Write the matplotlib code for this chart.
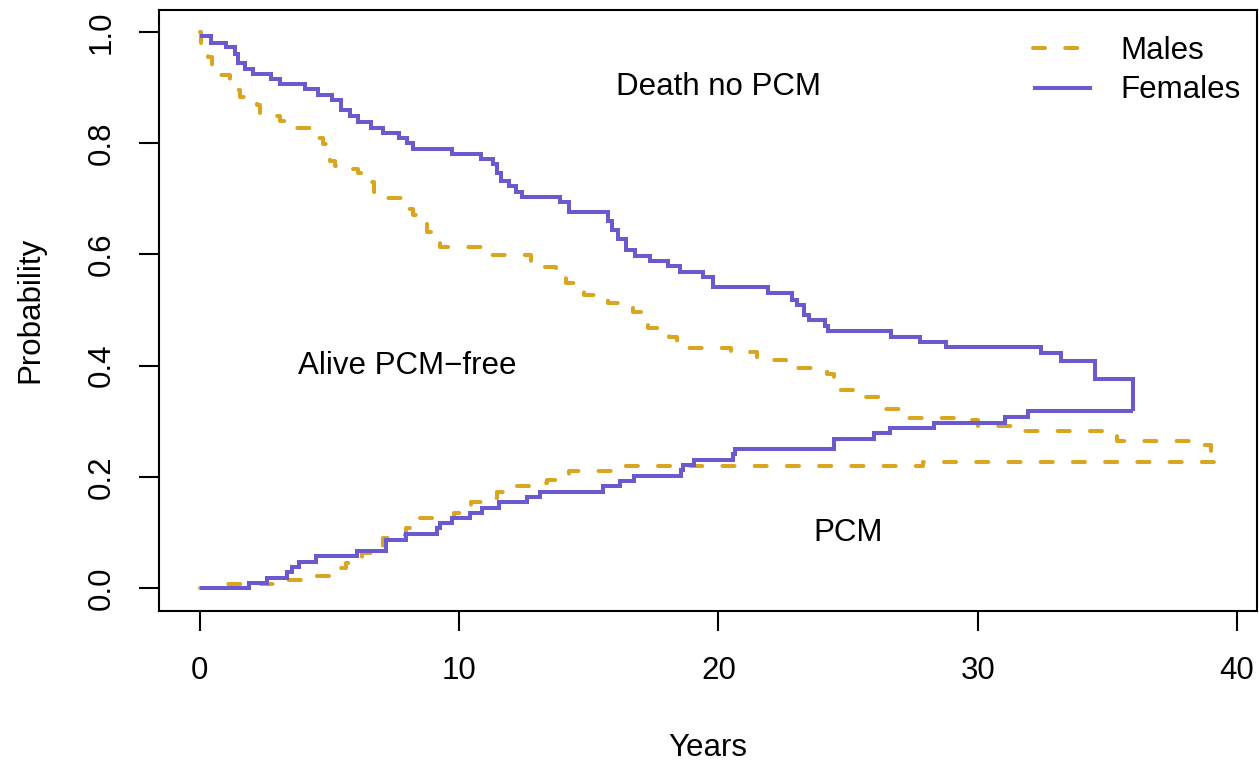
import matplotlib
matplotlib.use("Agg")
import matplotlib.pyplot as plt

# ---------------- data ----------------
fem_upper_t = [0, 0.41, 1.0, 1.35, 1.45, 1.74, 2.03, 2.74, 3.08, 4.05, 4.56, 5.08, 5.46, 5.78,
               6.11, 6.58, 7.07, 7.69, 7.97, 8.23, 9.74, 10.84, 11.31, 11.45, 11.6, 11.93, 12.19,
               12.44, 13.88, 14.23, 15.75, 15.9, 16.13, 16.45, 16.78, 17.35, 18.04, 18.51, 19.39,
               19.8, 21.92, 22.82, 23.01, 23.29, 23.5, 24.1, 24.23, 26.67, 27.79, 28.76, 32.43,
               33.2, 34.52, 35.97]
fem_upper_v = [0.992, 0.980, 0.973, 0.961, 0.944, 0.934, 0.925, 0.916, 0.907, 0.897, 0.886, 0.877,
               0.859, 0.849, 0.838, 0.828, 0.819, 0.810, 0.800, 0.790, 0.780, 0.771, 0.762, 0.747,
               0.732, 0.723, 0.713, 0.703, 0.695, 0.677, 0.660, 0.644, 0.628, 0.608, 0.598, 0.588,
               0.579, 0.569, 0.559, 0.542, 0.531, 0.519, 0.510, 0.492, 0.482, 0.472, 0.462, 0.452,
               0.443, 0.433, 0.423, 0.408, 0.377, 0.319]

fem_lower_t = [0, 1.9, 2.6, 3.37, 3.57, 3.82, 4.46, 6.07, 7.16, 7.94, 9.15, 9.26, 9.74, 10.41,
               10.89, 11.54, 12.62, 13.11, 15.55, 16.2, 16.75, 18.55, 18.65, 19.07, 20.57, 20.65,
               24.46, 26.0, 26.6, 28.31, 31.05, 31.95, 35.97]
fem_lower_v = [0, 0.009, 0.019, 0.030, 0.039, 0.048, 0.058, 0.068, 0.087, 0.097, 0.108, 0.117,
               0.126, 0.135, 0.145, 0.156, 0.165, 0.174, 0.184, 0.193, 0.202, 0.213, 0.222, 0.231,
               0.241, 0.250, 0.268, 0.279, 0.289, 0.298, 0.308, 0.319, 0.319]

male_upper_t = [0, 0.05, 0.3, 0.45, 0.7, 1.15, 1.45, 1.55, 2.2, 2.3, 3.1, 3.6, 4.6, 4.75, 4.9,
                5.0, 5.2, 5.8, 6.1, 6.6, 6.7, 7.1, 7.8, 8.2, 8.6, 8.75, 9.05, 9.25, 11.0, 12.75,
                13.75, 14.1, 14.5, 14.8, 15.3, 15.75, 16.7, 17.0, 17.3, 18.1, 18.4, 20.5, 21.5,
                22.6, 23.6, 24.2, 24.45, 24.7, 25.6, 26.25, 26.35, 27.3, 29.5, 30.0, 31.43,
                35.36, 38.6, 39.0, 39.2]
male_upper_v = [1.0, 0.970, 0.955, 0.937, 0.922, 0.912, 0.895, 0.883, 0.869, 0.848, 0.840, 0.827,
                0.810, 0.798, 0.785, 0.768, 0.759, 0.753, 0.746, 0.730, 0.713, 0.702, 0.681, 0.671,
                0.657, 0.641, 0.622, 0.614, 0.599, 0.578, 0.557, 0.549, 0.536, 0.527, 0.522, 0.512,
                0.497, 0.477, 0.468, 0.452, 0.431, 0.425, 0.410, 0.396, 0.390, 0.385, 0.372, 0.357,
                0.344, 0.335, 0.322, 0.306, 0.303, 0.292, 0.283, 0.265, 0.258, 0.245, 0.226]

male_lower_t = [0, 0.6, 3.2, 4.3, 5.2, 5.65, 6.1, 6.25, 6.95, 7.05, 7.5, 7.95, 8.1, 8.25, 9.8,
                10.35, 10.45, 11.25, 11.45, 11.9, 12.9, 13.4, 13.9, 14.25, 16.2, 27.9, 39.2]
male_lower_v = [0, 0.008, 0.015, 0.022, 0.036, 0.046, 0.055, 0.063, 0.074, 0.090, 0.095, 0.108,
                0.117, 0.126, 0.135, 0.145, 0.155, 0.163, 0.174, 0.184, 0.190, 0.195, 0.206, 0.211,
                0.220, 0.227, 0.227]

series_labels = ["Males", "Females"]
region_labels = ["Death no PCM", "Alive PCM\u2212free", "PCM"]
region_x = [20, 8, 25]
region_y = [0.9, 0.4, 0.1]
x_ticks = [0, 10, 20, 30, 40]
y_ticks = [0.0, 0.2, 0.4, 0.6, 0.8, 1.0]

# ---------------- styling ----------------
plt.rcParams['font.family'] = ['Liberation Sans', 'DejaVu Sans']
FS = 22.5
MALE_COL = "#DAA520"
FEM_COL = "#6A5ACD"
LW = 2.9

fig = plt.figure(figsize=(12.59, 7.63), dpi=100)
ax = fig.add_axes([0.1265, 0.1997, 0.9984 - 0.1265, 0.9875 - 0.1997])

dash_kw = dict(color=MALE_COL, lw=LW, linestyle=(0, (3.0, 5.0)),
               dash_capstyle='round', solid_capstyle='round')
solid_kw = dict(color=FEM_COL, lw=LW, solid_capstyle='butt', solid_joinstyle='miter')

ax.step(male_upper_t, male_upper_v, where='post', label=series_labels[0], **dash_kw)
ax.step(male_lower_t, male_lower_v, where='post', **dash_kw)
ax.step(fem_upper_t, fem_upper_v, where='post', label=series_labels[1], **solid_kw)
ax.step(fem_lower_t, fem_lower_v, where='post', **solid_kw)

for lab, xx, yy in zip(region_labels, region_x, region_y):
    ax.text(xx, yy, lab, ha='center', va='center', fontsize=FS)

ax.set_xlim(-1.568, 40.768)
ax.set_ylim(-0.04, 1.04)
ax.set_xticks(x_ticks)
ax.set_xticklabels([str(v) for v in x_ticks])
ax.set_yticks(y_ticks)
ax.set_yticklabels([f"{v:.1f}" for v in y_ticks], rotation=90, va='center')

for sp in ax.spines.values():
    sp.set_linewidth(1.5)
ax.tick_params(axis='both', direction='out', length=14.5, width=1.5, labelsize=FS)
ax.tick_params(axis='x', pad=18)
ax.tick_params(axis='y', pad=16)

ax.set_xlabel("Years", fontsize=FS)
ax.set_ylabel("Probability", fontsize=FS)
ax.xaxis.set_label_coords(0.5, -0.203)
ax.yaxis.set_label_coords(-0.104, 0.5)

leg = ax.legend(loc='upper right', bbox_to_anchor=(1.009, 1.0), frameon=False, fontsize=FS,
                handlelength=1.9, handletextpad=0.9, labelspacing=0.3, borderaxespad=0.45)

fig.savefig("out.png", dpi=100)
